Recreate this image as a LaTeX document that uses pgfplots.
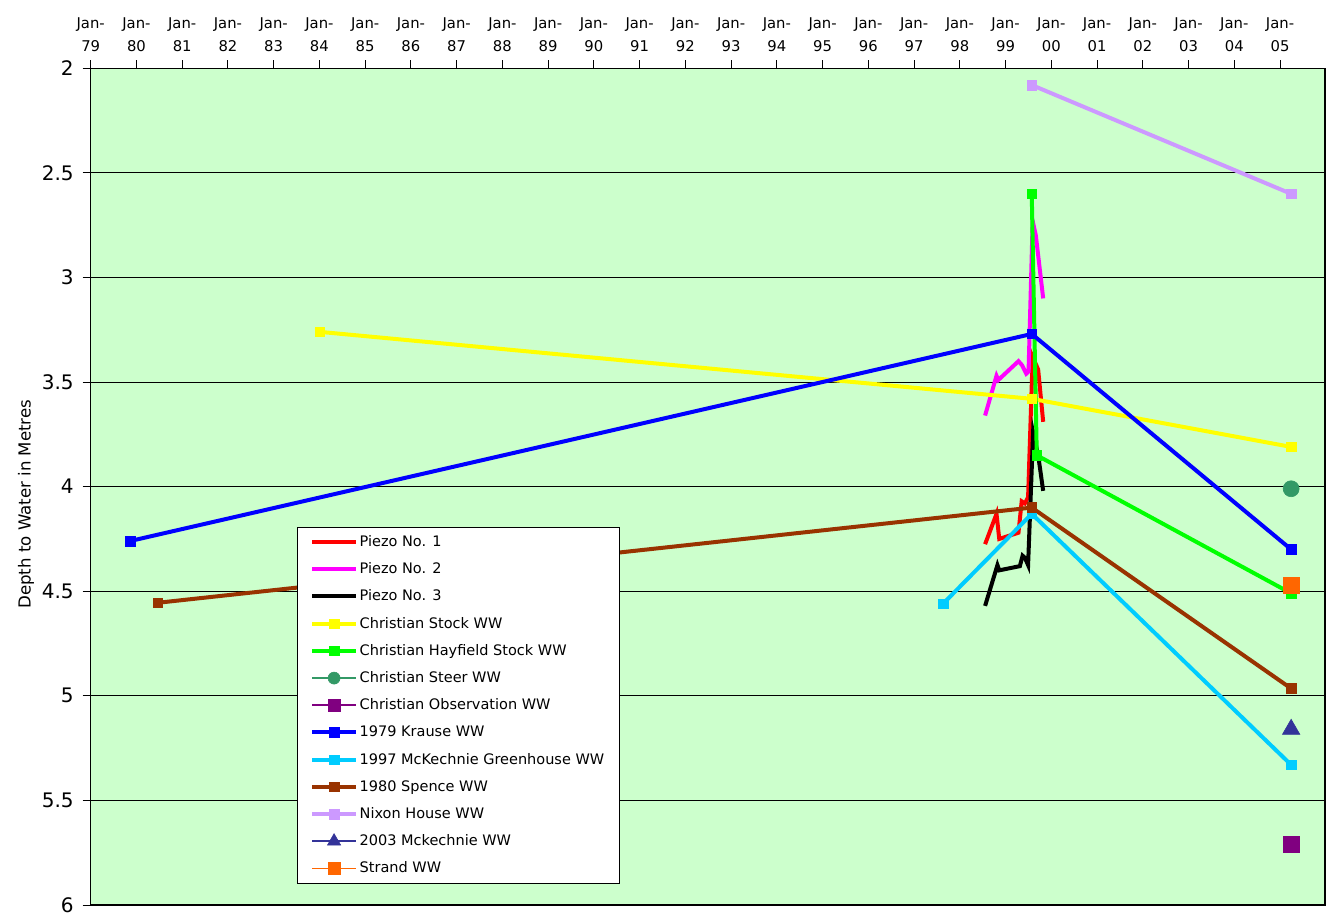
\documentclass[border=0pt]{standalone}
\usepackage{pgfplots}
\pgfplotsset{compat=1.18}
\usepackage{fontspec}
\setmainfont{DejaVu Sans}
\definecolor{bgg}{HTML}{CCFFCC}
\definecolor{cmag}{HTML}{FF00FF}
\definecolor{csteer}{HTML}{339966}
\definecolor{cobs}{HTML}{800080}
\definecolor{ccyan}{HTML}{00CCFF}
\definecolor{cbrown}{HTML}{993300}
\definecolor{cnixon}{HTML}{CC99FF}
\definecolor{cmck}{HTML}{333399}
\definecolor{cstrand}{HTML}{FF6600}
\definecolor{cgreen}{HTML}{00FF00}
\definecolor{cyellow}{HTML}{FFFF00}
\begin{document}
\begin{tikzpicture}
\begin{axis}[
  at={(0,0)}, anchor=south west,
  scale only axis, width=617.15pt, height=418.35pt,
  xmin=1979, xmax=2005.98, ymin=2, ymax=6, y dir=reverse,
  axis background/.style={fill=bgg},
  axis line style={black, line width=0.6pt},
  xtick={1979,...,2005},
  xticklabels={Jan-\\79,Jan-\\80,Jan-\\81,Jan-\\82,Jan-\\83,Jan-\\84,Jan-\\85,Jan-\\86,Jan-\\87,Jan-\\88,Jan-\\89,Jan-\\90,Jan-\\91,Jan-\\92,Jan-\\93,Jan-\\94,Jan-\\95,Jan-\\96,Jan-\\97,Jan-\\98,Jan-\\99,Jan-\\00,Jan-\\01,Jan-\\02,Jan-\\03,Jan-\\04,Jan-\\05},
  xticklabel pos=upper, xtick pos=upper, ytick pos=left,
  xticklabel style={align=center, font=\fontsize{7.4}{11.5}\selectfont, yshift=1pt},
  ytick={2,2.5,...,6},
  yticklabel style={font=\fontsize{10}{12}\selectfont, xshift=-1pt},
  /pgf/number format/assume math mode=true,
  tick align=outside, major tick length=4pt,
  tick style={black, line width=0.5pt},
  ymajorgrids, grid style={black, line width=0.5pt},
  ylabel={Depth to Water in Metres},
  every axis y label/.append style={at={(ticklabel cs:0.479)}},
  ylabel style={font=\fontsize{8.3}{10}\selectfont, yshift=-3pt},
  legend cell align=left,
  legend style={at={(0.1671,0.4518)}, anchor=north west, fill=white, draw=black, line width=0.5pt,
    font=\fontsize{7.25}{8}\selectfont, row sep=0pt, inner xsep=6.5pt, inner ysep=0.5pt,
    nodes={text height=6.2pt, text depth=1.8pt, inner ysep=2.8pt, inner xsep=1pt}},
  legend image code/.code={\draw[mark repeat=2,mark phase=2,#1] plot coordinates {(0cm,0cm) (0.38cm,0cm) (0.76cm,0cm)};},
  every axis plot/.append style={mark options={solid, line width=0.3pt}},
]
\addplot[red, line width=2pt] coordinates {
(1998.55,4.275) (1998.80,4.13) (1998.86,4.25) (1999.28,4.22) (1999.35,4.07) (1999.42,4.08) (1999.49,4.05) (1999.59,3.38) (1999.71,3.44) (1999.82,3.69)};
\addlegendentry{Piezo No. 1}
\addplot[cmag, line width=2pt] coordinates {
(1998.55,3.66) (1998.80,3.47) (1998.84,3.49) (1999.28,3.40) (1999.36,3.42) (1999.45,3.46) (1999.50,3.45) (1999.59,2.73) (1999.66,2.80) (1999.82,3.10)};
\addlegendentry{Piezo No. 2}
\addplot[black, line width=2pt] coordinates {
(1998.55,4.57) (1998.82,4.375) (1998.86,4.40) (1999.31,4.38) (1999.37,4.33) (1999.42,4.34) (1999.49,4.375) (1999.60,3.74) (1999.71,3.85) (1999.82,4.02)};
\addlegendentry{Piezo No. 3}
\addplot[cyellow, line width=2pt, mark=square*, mark size=2.4pt] coordinates {
(1984.01,3.26) (1999.57,3.58) (2005.24,3.81)};
\addlegendentry{Christian Stock WW}
\addplot[cgreen, line width=2pt, mark=square*, mark size=2.4pt] coordinates {
(1999.57,2.60) (1999.68,3.85) (2005.24,4.51)};
\addlegendentry{Christian Hayfield Stock WW}
\addplot[csteer, line width=0.9pt, mark=*, mark size=4pt, legend image post style={mark size=3pt}] coordinates {(2005.24,4.01)};
\addlegendentry{Christian Steer WW}
\addplot[cobs, line width=0.9pt, mark=square*, mark size=4pt, legend image post style={mark size=3pt}] coordinates {(2005.24,5.71)};
\addlegendentry{Christian Observation WW}
\addplot[blue, line width=2pt, mark=square*, mark size=2.4pt] coordinates {
(1979.86,4.26) (1999.57,3.27) (2005.24,4.30)};
\addlegendentry{1979 Krause WW}
\addplot[ccyan, line width=2pt, mark=square*, mark size=2.4pt] coordinates {
(1997.63,4.56) (1999.57,4.13) (2005.24,5.33)};
\addlegendentry{1997 McKechnie Greenhouse WW}
\addplot[cbrown, line width=2pt, mark=square*, mark size=2.4pt] coordinates {
(1980.47,4.555) (1999.57,4.10) (2005.24,4.965)};
\addlegendentry{1980 Spence WW}
\addplot[cnixon, line width=2pt, mark=square*, mark size=2.4pt] coordinates {
(1999.57,2.08) (2005.24,2.60)};
\addlegendentry{Nixon House WW}
\addplot[cmck, line width=0.9pt, mark=triangle*, mark size=5pt, legend image post style={mark size=3.8pt}] coordinates {(2005.24,5.16)};
\addlegendentry{2003 Mckechnie WW}
\addplot[cstrand, line width=0.9pt, mark=square*, mark size=4pt, legend image post style={mark size=3pt}] coordinates {(2005.24,4.47)};
\addlegendentry{Strand WW}
\end{axis}
\pgfresetboundingbox
\path (-45.35pt,-6.5pt) rectangle (619.65pt,452.5pt);
\end{tikzpicture}
\end{document}
